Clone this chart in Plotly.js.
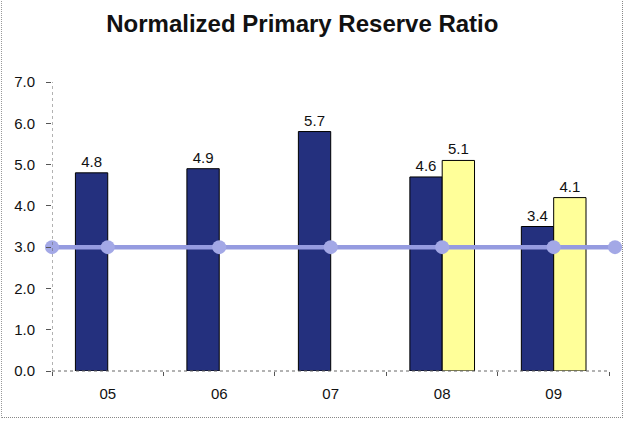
<!DOCTYPE html>
<html>
<head>
<meta charset="utf-8">
<script src="https://cdn.plot.ly/plotly-3.0.1.min.js"></script>
<style>
  html, body { margin: 0; padding: 0; background: #fff; }
  #wrap { position: relative; width: 626px; height: 427px; }
  #chart { width: 626px; height: 427px; }
  #frame { position: absolute; left: 1px; top: -2px; width: 620px; height: 419px;
           border-left: 1px dotted #999; border-right: 1px dotted #888; border-bottom: 1px dotted #888;
           pointer-events: none; }
</style>
</head>
<body>
<div id="wrap">
  <div id="chart"></div>
  <div id="frame"></div>
</div>
<script>
// ---- data ----
const categories = ['05', '06', '07', '08', '09'];
const ratioValues = [4.8, 4.9, 5.8, 4.7, 3.5];
const ratioLabels = ['4.8', '4.9', '5.7', '4.6', '3.4'];
const projectedValues = [null, null, null, 5.1, 4.2];
const projectedLabels = ['', '', '', '5.1', '4.1'];
const benchmarkX = [-0.5, 0, 1, 2, 3, 4, 4.55];
const benchmarkY = [3.0, 3.0, 3.0, 3.0, 3.0, 3.0, 3.0];
const yTicks = [0, 1, 2, 3, 4, 5, 6, 7];
const yTickLabels = ['0.0', '1.0', '2.0', '3.0', '4.0', '5.0', '6.0', '7.0'];

const catIdx = categories.map((c, i) => i);
const FONT = 'Arial, "Liberation Sans", sans-serif';
const lastEdge = categories.length - 0.5;

const traces = [
  {
    type: 'bar', x: catIdx, y: ratioValues, text: ratioLabels,
    textposition: 'outside', cliponaxis: false,
    textfont: { family: FONT, size: 15, color: '#111' },
    marker: { color: '#24307e', line: { color: '#000', width: 1 } },
    hoverinfo: 'none', showlegend: false
  },
  {
    type: 'bar', x: catIdx, y: projectedValues, text: projectedLabels,
    textposition: 'outside', cliponaxis: false,
    textfont: { family: FONT, size: 15, color: '#111' },
    marker: { color: '#ffff99', line: { color: '#000', width: 1 } },
    hoverinfo: 'none', showlegend: false
  },
  {
    type: 'scatter', mode: 'lines+markers', x: benchmarkX, y: benchmarkY,
    cliponaxis: false,
    line: { color: '#959be0', width: 4.5 },
    marker: { color: '#a3a8e6', size: 14 },
    hoverinfo: 'none', showlegend: false
  }
];

const layout = {
  width: 626, height: 427,
  margin: { l: 52, r: 11, t: 82, b: 56 },
  paper_bgcolor: '#fff', plot_bgcolor: '#fff',
  font: { family: FONT, size: 15, color: '#111' },
  title: {
    text: '<b>Normalized Primary Reserve Ratio</b>',
    font: { family: FONT, size: 24, color: '#111' },
    xref: 'container', x: 0.483, xanchor: 'center',
    yref: 'container', y: 0.945, yanchor: 'middle'
  },
  barmode: 'group', bargap: 0.42, bargroupgap: 0,
  xaxis: {
    type: 'linear', range: [-0.5, 4.55],
    tickmode: 'array', tickvals: catIdx, ticktext: categories,
    ticks: '', showgrid: false, zeroline: false, showline: false,
    tickfont: { family: FONT, size: 15, color: '#111' },
    ticklabelstandoff: 12,
    minor: { tickmode: 'array', tickvals: [-0.5, 0.5, 1.5, 2.5, 3.5, 4.5], ticks: 'outside', ticklen: 4, tickcolor: '#555', tickwidth: 1, showgrid: false }
  },
  yaxis: {
    range: [0, 7], tickmode: 'array', tickvals: yTicks, ticktext: yTickLabels,
    ticks: 'outside', ticklen: 5, tickcolor: '#555', tickwidth: 1,
    ticklabelstandoff: 8,
    showgrid: false, zeroline: false, showline: false,
    tickfont: { family: FONT, size: 15, color: '#111' }
  },
  shapes: [
    { type: 'line', xref: 'x', yref: 'paper', x0: -0.5, x1: -0.5, y0: 0, y1: 1, line: { color: '#666', width: 1, dash: 'dot' } },
    { type: 'line', xref: 'x', yref: 'paper', x0: -0.5, x1: lastEdge, y0: 0, y1: 0, line: { color: '#666', width: 1, dash: 'dot' } }
  ]
};

Plotly.newPlot('chart', traces, layout, { displayModeBar: false, staticPlot: true });
</script>
</body>
</html>
